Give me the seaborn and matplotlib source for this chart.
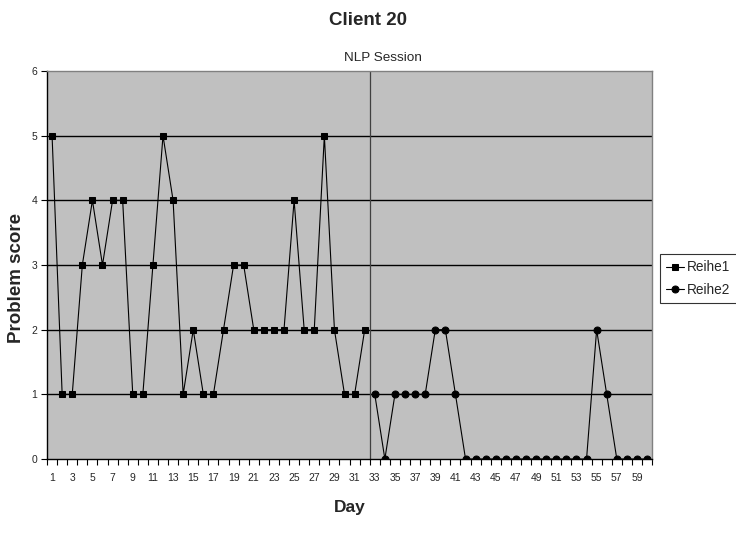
import matplotlib
matplotlib.use("Agg")
import matplotlib.pyplot as plt
import seaborn as sns
import pandas as pd
import numpy as np

days1 = list(range(1, 33))
reihe1 = [5, 1, 1, 3, 4, 3, 4, 4, 1, 1, 3, 5, 4, 1, 2, 1, 1, 2, 3, 3, 2, 2, 2, 2, 4, 2, 2, 5, 2, 1, 1, 2]
days2 = list(range(33, 61))
reihe2 = [1, 0, 1, 1, 1, 1, 2, 2, 1, 0, 0, 0, 0, 0, 0, 0, 0, 0, 0, 0, 0, 0, 2, 1, 0, 0, 0, 0]
xtick_labels = [str(d) for d in range(1, 61, 2)]
session_day = 32.5

sns.set_theme(style="white")
plt.rcParams['font.family'] = ['Liberation Sans', 'DejaVu Sans']

fig = plt.figure(figsize=(7.36, 5.46), dpi=100)
ax = fig.add_axes([0.0639, 0.1593, 0.8221, 0.7107])
ax.set_facecolor('#C0C0C0')

df1 = pd.DataFrame({'Day': days1, 'Score': reihe1})
df2 = pd.DataFrame({'Day': days2, 'Score': reihe2})
sns.lineplot(data=df1, x='Day', y='Score', ax=ax, color='black', lw=0.8,
             marker='s', markersize=5, markeredgecolor='black', label='Reihe1')
sns.lineplot(data=df2, x='Day', y='Score', ax=ax, color='black', lw=0.8,
             marker='o', markersize=5, markeredgecolor='black', label='Reihe2')

ax.set_xlim(0.5, 60.5)
ax.set_ylim(0, 6)
for yv in range(1, 6):
    ax.axhline(yv, color='black', lw=1.0, zorder=1)
ax.axvline(session_day, color='#404040', lw=0.9, zorder=1)

ax.set_yticks(range(0, 7))
ax.set_yticklabels([str(v) for v in range(0, 7)], fontsize=7.5)
ax.set_xticks(range(1, 61, 2))
ax.set_xticklabels(xtick_labels, fontsize=7.5)
ax.set_xticks(np.arange(0.5, 61, 1), minor=True)
ax.tick_params(axis='x', which='major', length=0, pad=10)
ax.tick_params(axis='x', which='minor', length=4, width=0.8, color='black', direction='out', bottom=True)
ax.tick_params(axis='y', length=4, width=0.8, color='black', direction='out', left=True, pad=3)

for s in ['top', 'right']:
    ax.spines[s].set_color('#808080')
    ax.spines[s].set_linewidth(1.0)
for s in ['left', 'bottom']:
    ax.spines[s].set_color('black')
    ax.spines[s].set_linewidth(1.0)

ax.set_xlabel('Day', fontsize=12.5, fontweight='bold')
ax.xaxis.label.set_va('center')
ax.xaxis.set_label_coords(0.5, -0.124)
ax.set_ylabel('Problem score', fontsize=13.5, fontweight='bold')
ax.yaxis.label.set_va('center')
ax.yaxis.set_label_coords(-0.05, 0.466)

fig.text(0.5, 0.962, 'Client 20', ha='center', va='center', fontsize=13.5, fontweight='bold')
fig.text(0.52, 0.894, 'NLP Session', ha='center', va='center', fontsize=9.7)

leg = ax.legend(loc='center left', bbox_to_anchor=(1.013, 0.465), frameon=True, fontsize=9.8,
                handlelength=1.3, handletextpad=0.25, borderpad=0.45, labelspacing=0.6,
                fancybox=False, borderaxespad=0)
leg.get_frame().set_edgecolor('black')
leg.get_frame().set_linewidth(0.8)
leg.get_frame().set_facecolor('white')

fig.savefig('out.png', dpi=100, facecolor='white')
